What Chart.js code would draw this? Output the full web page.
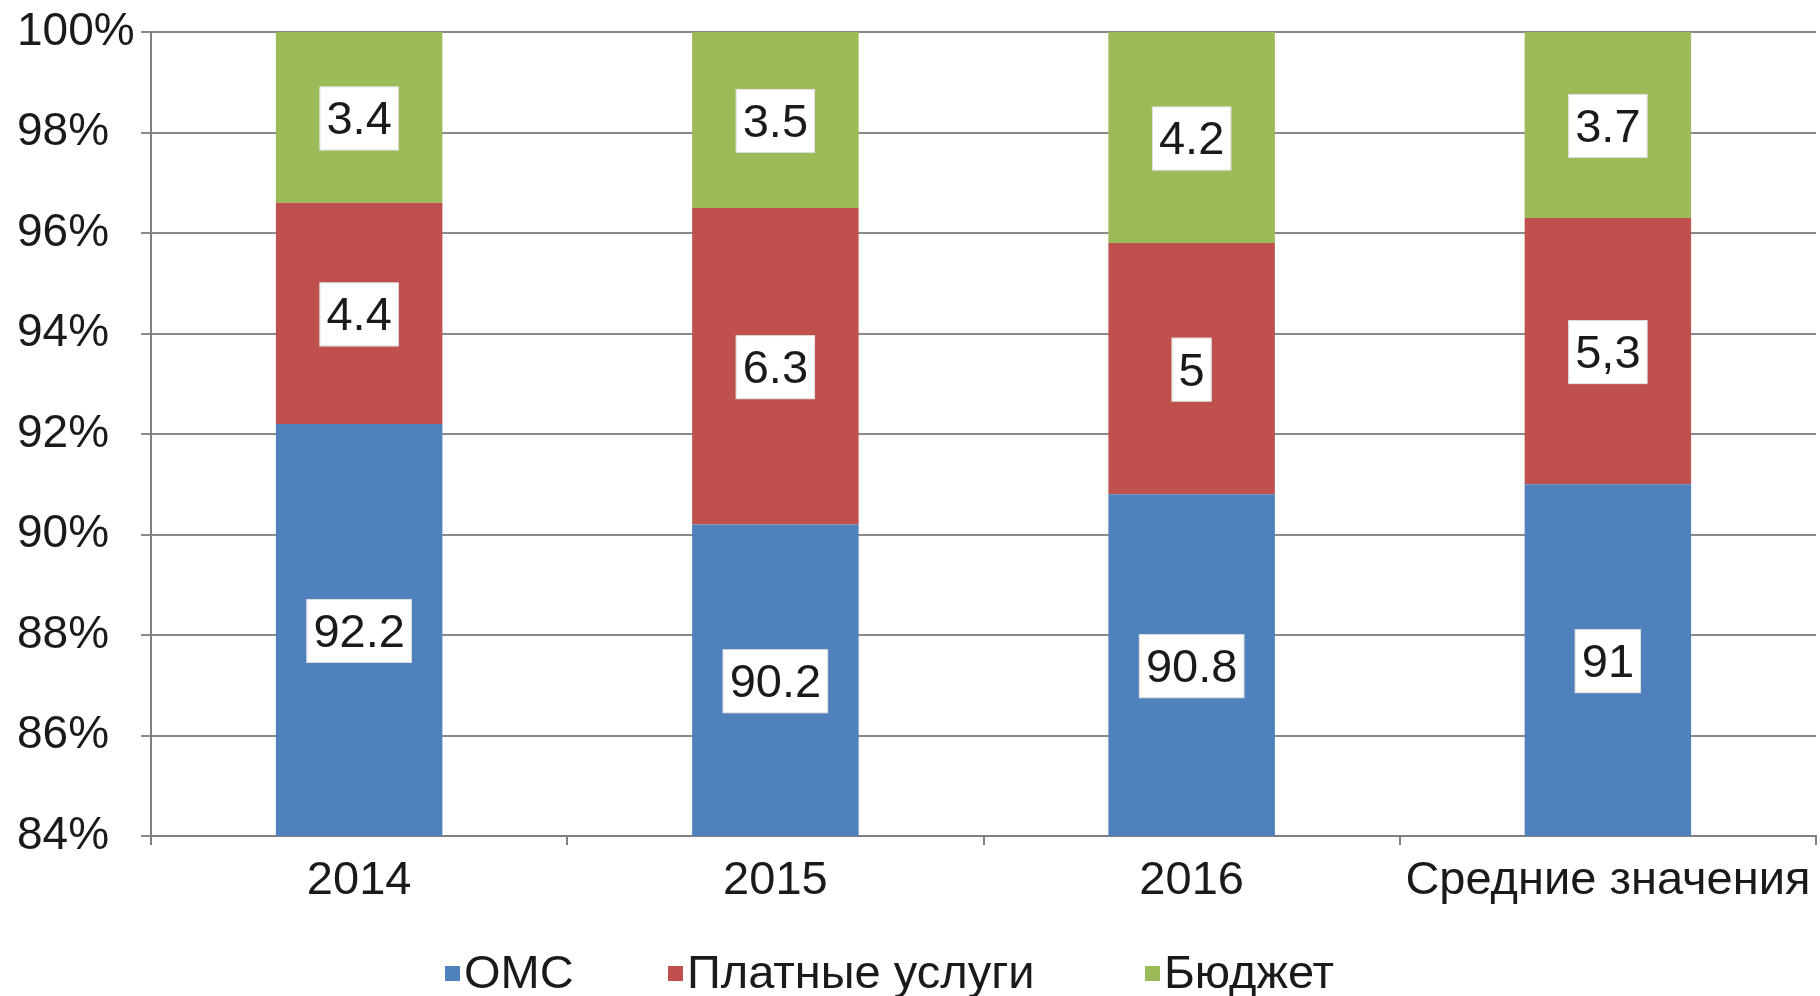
<!DOCTYPE html>
<html>
<head>
<meta charset="utf-8">
<script src="https://cdn.jsdelivr.net/npm/chart.js@4/dist/chart.umd.min.js"></script>
<style>
  html, body { margin: 0; padding: 0; background: #fff; }
  #wrap { width: 1820px; height: 996px; position: relative; }
</style>
</head>
<body>
<div id="wrap"><canvas id="c" width="1820" height="996"></canvas></div>
<script>
const categories = ['2014', '2015', '2016', 'Средние значения'];
const seriesNames = ['ОМС', 'Платные услуги', 'Бюджет'];
const omsValues = [92.2, 90.2, 90.8, 91];
const paidValues = [4.4, 6.3, 5, 5.3];
const budgetValues = [3.4, 3.5, 4.2, 3.7];
const omsLabels = ['92.2', '90.2', '90.8', '91'];
const paidLabels = ['4.4', '6.3', '5', '5,3'];
const budgetLabels = ['3.4', '3.5', '4.2', '3.7'];
const yTicks = [84, 86, 88, 90, 92, 94, 96, 98, 100];

const FONT = '"Liberation Sans", Arial, sans-serif';
const colors = ['#4F81BD', '#C0504D', '#9BBB59'];

const labelPlugin = {
  id: 'boxLabels',
  afterDatasetsDraw(chart) {
    const ctx = chart.ctx;
    const area = chart.chartArea;
    const texts = [omsLabels, paidLabels, budgetLabels];
    ctx.save();
    ctx.font = '47px ' + FONT;
    ctx.textAlign = 'center';
    ctx.textBaseline = 'middle';
    chart.data.datasets.forEach((ds, di) => {
      const meta = chart.getDatasetMeta(di);
      meta.data.forEach((bar, i) => {
        let top = Math.min(bar.y, bar.base);
        let bot = Math.max(bar.y, bar.base);
        top = Math.max(top, area.top);
        bot = Math.min(bot, area.bottom);
        const cy = (top + bot) / 2;
        const t = texts[di][i];
        const w = ctx.measureText(t).width + 14;
        const h = 64;
        ctx.fillStyle = '#ffffff';
        ctx.fillRect(bar.x - w / 2, cy - h / 2 + 1, w, h);
        ctx.strokeStyle = 'rgba(200,200,200,0.6)';
        ctx.lineWidth = 1;
        ctx.strokeRect(bar.x - w / 2 + 0.5, cy - h / 2 + 1.5, w - 1, h - 1);
        ctx.fillStyle = '#1a1a1a';
        ctx.fillText(t, bar.x, cy + 4);
      });
    });
    ctx.restore();
  }
};

const legendPlugin = {
  id: 'excelLegend',
  afterDraw(chart, args, opts) {
    const ctx = chart.ctx;
    ctx.save();
    ctx.font = '47px ' + FONT;
    ctx.textBaseline = 'middle';
    ctx.textAlign = 'left';
    chart.data.datasets.forEach((ds, i) => {
      const x = opts.xs[i];
      ctx.fillStyle = ds.backgroundColor;
      ctx.fillRect(x, opts.y - 8, 15, 15);
      ctx.fillStyle = '#1a1a1a';
      ctx.fillText(ds.label, x + 19, opts.y + 1);
    });
    ctx.restore();
  }
};

new Chart(document.getElementById('c'), {
  type: 'bar',
  data: {
    labels: categories,
    datasets: [
      { label: seriesNames[0], data: omsValues, backgroundColor: colors[0] },
      { label: seriesNames[1], data: paidValues, backgroundColor: colors[1] },
      { label: seriesNames[2], data: budgetValues, backgroundColor: colors[2] }
    ]
  },
  options: {
    responsive: false,
    animation: false,
    devicePixelRatio: 1,
    barPercentage: 0.4,
    categoryPercentage: 1,
    layout: { padding: { left: 17, right: 4, top: 32, bottom: 0 } },
    plugins: {
      legend: { display: false },
      tooltip: { enabled: false },
      excelLegend: { xs: [445, 668, 1145], y: 974 }
    },
    scales: {
      x: {
        stacked: true,
        afterFit(s) { s.height = 160; },
        grid: { offset: true, drawOnChartArea: false, drawTicks: true, tickLength: 9, color: '#808080', lineWidth: 2 },
        border: { color: '#808080', width: 2 },
        ticks: { font: { family: FONT, size: 47 }, color: '#1a1a1a', padding: 8, maxRotation: 0, autoSkip: false }
      },
      y: {
        stacked: true,
        min: 84,
        max: 100,
        afterFit(s) { s.width = 134; },
        afterBuildTicks(s) { s.ticks = yTicks.map(v => ({ value: v })); },
        grid: { color: '#8a8a8a', lineWidth: 2, tickLength: 10 },
        border: { color: '#808080', width: 2 },
        ticks: {
          font: { family: FONT, size: 46 }, color: '#1a1a1a', crossAlign: 'far', padding: 0,
          callback: v => v + '%'
        }
      }
    }
  },
  plugins: [labelPlugin, legendPlugin]
});
</script>
</body>
</html>
